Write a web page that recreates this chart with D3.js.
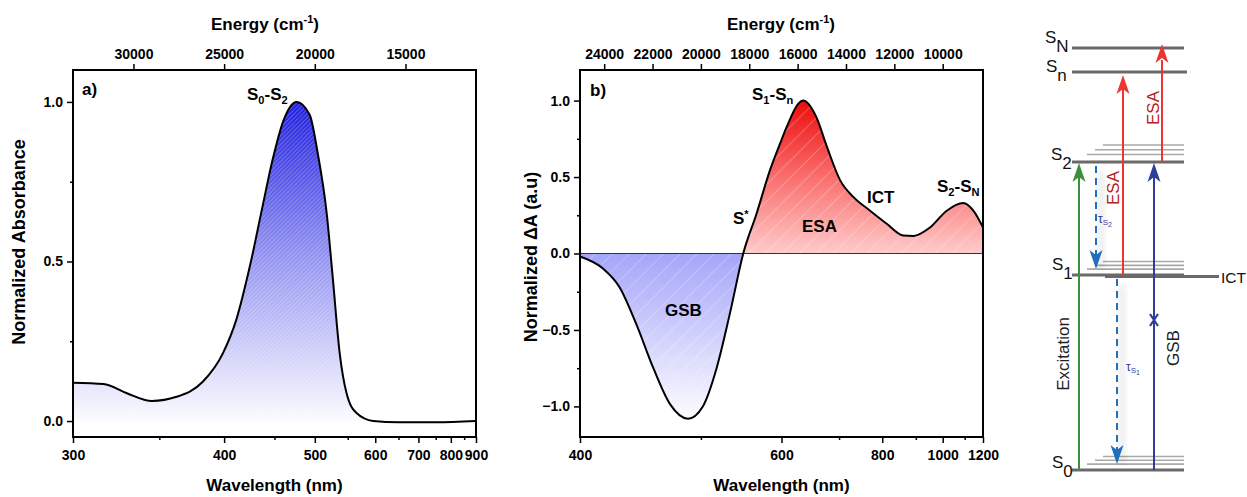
<!DOCTYPE html>
<html>
<head>
<meta charset="utf-8">
<script src="https://cdn.jsdelivr.net/npm/d3@7"></script>
<style>
  body { margin: 0; background: #fff; }
  svg text { font-family: 'Liberation Sans', Arial, sans-serif; }
</style>
</head>
<body>
<svg width="1247" height="497"></svg>
<script>
// panel a: steady-state absorption
const absWl = [300, 316, 329, 345, 362, 382, 399, 411, 424, 437, 448, 460, 476, 493, 504, 517, 526, 537, 548, 565, 596, 650, 750, 900]
const absVal = [0.12, 0.116, 0.088, 0.063, 0.076, 0.123, 0.213, 0.317, 0.484, 0.672, 0.82, 0.94, 1.0, 0.96, 0.84, 0.65, 0.45, 0.21, 0.087, 0.025, 0.0, -0.004, -0.004, 0.0]

// panel b: transient absorption
const taWl = [400, 416, 428, 441, 455, 470, 487, 502, 517, 532, 548, 565, 583, 598, 608, 634, 657, 676, 702, 730, 769, 812, 860, 892, 950, 1017, 1093, 1145, 1200]
const taVal = [-0.02, -0.1, -0.22, -0.46, -0.745, -0.985, -1.08, -1.0, -0.745, -0.39, 0, 0.26, 0.54, 0.72, 0.83, 1.0, 0.89, 0.70, 0.48, 0.37, 0.28, 0.195, 0.118, 0.115, 0.17, 0.28, 0.33, 0.28, 0.17]

// tick values
const aWlMajor = [300, 400, 500, 600, 700, 800, 900]
const aWlMinor = [350, 450, 550, 650, 750, 850]
const aEnergy = [30000, 25000, 20000, 15000]
const aYMajor = [0, 0.5, 1.0]
const aYMinor = [0.25, 0.75]

const bWlMajor = [400, 600, 800, 1000, 1200]
const bWlMinor = [500, 700, 900, 1100]
const bEnergy = [24000, 22000, 20000, 18000, 16000, 14000, 12000, 10000]
const bYMajor = [-1.0, -0.5, 0, 0.5, 1.0]
const bYMinor = [-0.75, -0.25, 0.25, 0.75]

// panel c: level scheme (arbitrary energy units)
const levelNames = ['S0', 'S1', 'S2', 'Sn', 'SN']
const levelEnergy = [0, 46.2, 73, 94.3, 100]
const vibOffsets = [1.4, 2.3, 3.2]

const svg = d3.select('svg')
const defs = svg.append('defs')
const FONT = "'Liberation Sans', Arial, sans-serif"

const gradient = (id, y1, y2, stops) => {
  const lg = defs.append('linearGradient').attr('id', id)
    .attr('gradientUnits', 'userSpaceOnUse')
    .attr('x1', 0).attr('x2', 0).attr('y1', y1).attr('y2', y2)
  stops.forEach(([o, c]) => lg.append('stop').attr('offset', o).attr('stop-color', c))
}

const hatch = (id, gap, op) => {
  const p = defs.append('pattern').attr('id', id)
    .attr('patternUnits', 'userSpaceOnUse')
    .attr('width', gap).attr('height', gap)
    .attr('patternTransform', 'rotate(45)')
  p.append('line').attr('x1', 0).attr('y1', 0).attr('x2', 0).attr('y2', gap)
    .attr('stroke', '#fff').attr('stroke-width', 1).attr('stroke-opacity', op)
}
hatch('hatchA', 3, 0.45)
hatch('hatchB', 12, 0.45)

const drawPanel = p => {
  const x = d3.scaleLinear().domain(p.eDomain).range([p.left, p.right])
  const y = d3.scaleLinear().domain(p.yDomain).range([p.bottom, p.top])
  const xw = w => x(1e7 / w)
  const g = svg.append('g')

  const style = sel => {
    sel.select('.domain').remove()
    sel.selectAll('line').attr('stroke-width', 1.5)
    sel.attr('font-family', FONT).attr('font-size', 14).attr('font-weight', 'bold')
  }

  const layers = { back: g.append('g'), axes: g.append('g') }

  layers.axes.append('g')
    .attr('transform', `translate(0,${p.bottom})`)
    .call(d3.axisBottom(x).tickValues(p.wlMajor.map(w => 1e7 / w))
      .tickFormat(e => Math.round(1e7 / e)).tickSize(6).tickPadding(7))
    .call(style)
  layers.axes.append('g')
    .attr('transform', `translate(0,${p.bottom})`)
    .call(d3.axisBottom(x).tickValues(p.wlMinor.map(w => 1e7 / w)).tickFormat('').tickSize(3))
    .call(style)
  layers.axes.append('g')
    .attr('transform', `translate(0,${p.top})`)
    .call(d3.axisTop(x).tickValues(p.energy).tickFormat(d3.format('d')).tickSize(6).tickPadding(5))
    .call(style)
  layers.axes.append('g')
    .attr('transform', `translate(${p.left},0)`)
    .call(d3.axisLeft(y).tickValues(p.yMajor).tickFormat(d3.format('.1f')).tickSize(6).tickPadding(4))
    .call(style)
  layers.axes.append('g')
    .attr('transform', `translate(${p.left},0)`)
    .call(d3.axisLeft(y).tickValues(p.yMinor).tickFormat('').tickSize(3))
    .call(style)

  layers.axes.append('rect')
    .attr('x', p.left).attr('y', p.top)
    .attr('width', p.right - p.left).attr('height', p.bottom - p.top)
    .attr('fill', 'none').attr('stroke', '#000').attr('stroke-width', 2)

  const energyTitle = layers.axes.append('text')
    .attr('x', p.eTitleX).attr('y', 30)
    .attr('text-anchor', 'middle').attr('font-size', 17).attr('font-weight', 'bold')
  energyTitle.append('tspan').text('Energy (cm')
  energyTitle.append('tspan').attr('font-size', 11).attr('dy', -7).text('-1')
  energyTitle.append('tspan').attr('dy', 7).text(')')

  layers.axes.append('text')
    .attr('x', (p.left + p.right) / 2).attr('y', 491)
    .attr('text-anchor', 'middle').attr('font-size', 17).attr('font-weight', 'bold')
    .text('Wavelength (nm)')

  layers.axes.append('text')
    .attr('transform', `translate(${p.yTitleX},${p.yTitleY}) rotate(-90)`)
    .attr('text-anchor', 'middle').attr('font-size', 18).attr('font-weight', 'bold')
    .text(p.yTitle)

  return { x, y, xw, g, back: layers.back }
}

const subLabel = (g, x, y, parts, size = 17) => {
  const t = g.append('text').attr('x', x).attr('y', y)
    .attr('font-size', size).attr('font-weight', 'bold')
  let shifted = false
  parts.forEach(([s, sub]) => {
    const ts = t.append('tspan').text(s)
    if (sub && !shifted) { ts.attr('dy', 4).attr('font-size', size * 0.65); shifted = true }
    else if (sub) ts.attr('font-size', size * 0.65)
    else if (shifted) { ts.attr('dy', -4); shifted = false }
  })
  return t
}

// ---------- panel a ----------
const A = drawPanel({
  left: 73, right: 476, top: 70, bottom: 437,
  eDomain: [1e7 / 300, 1e7 / 900], yDomain: [-0.05, 1.1],
  wlMajor: aWlMajor, wlMinor: aWlMinor, energy: aEnergy,
  yMajor: aYMajor, yMinor: aYMinor,
  eTitleX: 265, yTitleX: 25, yTitleY: 242, yTitle: 'Normalized Absorbance'
})

gradient('gradA', A.y(1), A.y(0), [[0, 'rgb(30,30,222)'], [0.5, 'rgb(150,150,242)'], [1, 'rgb(251,251,255)']])

const absData = d3.zip(absWl, absVal)
const absArea = d3.area().x(d => A.xw(d[0])).y0(A.y(0)).y1(d => A.y(d[1])).curve(d3.curveMonotoneX)
const absLine = d3.line().x(d => A.xw(d[0])).y(d => A.y(d[1])).curve(d3.curveMonotoneX)

A.back.append('path').datum(absData).attr('d', absArea).attr('fill', 'url(#gradA)')
A.back.append('path').datum(absData).attr('d', absArea).attr('fill', 'url(#hatchA)')
A.back.append('path').datum(absData).attr('d', absLine)
  .attr('fill', 'none').attr('stroke', '#000').attr('stroke-width', 2)

A.back.append('text').attr('x', 82).attr('y', 95)
  .attr('font-size', 17).attr('font-weight', 'bold').text('a)')
subLabel(A.back, 247, 100, [['S'], ['0', 1], ['-'], ['S'], ['2', 1]])

// ---------- panel b ----------
const B = drawPanel({
  left: 580, right: 983, top: 70, bottom: 437,
  eDomain: [1e7 / 400, 1e7 / 1200], yDomain: [-1.2, 1.2],
  wlMajor: bWlMajor, wlMinor: bWlMinor, energy: bEnergy,
  yMajor: bYMajor, yMinor: bYMinor,
  eTitleX: 781, yTitleX: 537, yTitleY: 257, yTitle: 'Normalized \u0394A (a.u)'
})

gradient('gradRed', B.y(1), B.y(0), [[0, 'rgb(236,12,12)'], [0.5, 'rgb(250,110,110)'], [1, 'rgb(255,202,202)']])
gradient('gradBlue', B.y(0), B.y(-1.08), [[0, 'rgb(165,165,250)'], [1, 'rgb(252,252,255)']])

defs.append('clipPath').attr('id', 'clipPos').append('rect')
  .attr('x', 580).attr('y', 70).attr('width', 403).attr('height', B.y(0) - 70)
defs.append('clipPath').attr('id', 'clipNeg').append('rect')
  .attr('x', 580).attr('y', B.y(0)).attr('width', 403).attr('height', 437 - B.y(0))

const taData = d3.zip(taWl, taVal)
const taArea = d3.area().x(d => B.xw(d[0])).y0(B.y(0)).y1(d => B.y(d[1])).curve(d3.curveMonotoneX)
const taLine = d3.line().x(d => B.xw(d[0])).y(d => B.y(d[1])).curve(d3.curveMonotoneX)

B.back.append('path').datum(taData).attr('d', taArea).attr('fill', 'url(#gradRed)').attr('clip-path', 'url(#clipPos)')
B.back.append('path').datum(taData).attr('d', taArea).attr('fill', 'url(#gradBlue)').attr('clip-path', 'url(#clipNeg)')
B.back.append('path').datum(taData).attr('d', taArea).attr('fill', 'url(#hatchB)')
B.back.append('line')
  .attr('x1', 580).attr('x2', 983).attr('y1', B.y(0)).attr('y2', B.y(0))
  .attr('stroke', '#333').attr('stroke-width', 1.2)
B.back.append('path').datum(taData).attr('d', taLine)
  .attr('fill', 'none').attr('stroke', '#000').attr('stroke-width', 2)

B.back.append('text').attr('x', 590).attr('y', 96)
  .attr('font-size', 17).attr('font-weight', 'bold').text('b)')
subLabel(B.back, 752, 100, [['S'], ['1', 1], ['-'], ['S'], ['n', 1]])
subLabel(B.back, 937, 192, [['S'], ['2', 1], ['-'], ['S'], ['N', 1]])
const sStar = B.back.append('text').attr('x', 733).attr('y', 224)
  .attr('font-size', 17).attr('font-weight', 'bold')
sStar.append('tspan').text('S')
sStar.append('tspan').attr('font-size', 11).attr('dy', -6).text('*')
B.back.append('text').attr('x', 802).attr('y', 232).attr('font-size', 17).attr('font-weight', 'bold').text('ESA')
B.back.append('text').attr('x', 867).attr('y', 203).attr('font-size', 17).attr('font-weight', 'bold').text('ICT')
B.back.append('text').attr('x', 665).attr('y', 316).attr('font-size', 17).attr('font-weight', 'bold').text('GSB')

// ---------- panel c: energy level diagram ----------
const C = svg.append('g').attr('font-family', "'Open Sans', 'Noto Sans', sans-serif")
const yL = d3.scaleLinear().domain([0, 100]).range([470, 48])
const lv = name => yL(levelEnergy[levelNames.indexOf(name)])
const lx0 = 1072, lx1 = 1184

const blur = defs.append('filter').attr('id', 'blur').attr('x', '-100%').attr('width', '300%')
blur.append('feGaussianBlur').attr('stdDeviation', 3)

// vibrational sublevels
const vibStart = [1087, 1095, 1103]
;['S0', 'S1', 'S2'].forEach(n => {
  const k = n === 'S2' ? 1.25 : 1
  vibOffsets.forEach((o, i) => {
    C.append('line').attr('x1', vibStart[i]).attr('x2', lx1)
      .attr('y1', lv(n) - o * k * 4.22).attr('y2', lv(n) - o * k * 4.22)
      .attr('stroke', '#a9a9a9').attr('stroke-width', 1.6)
  })
})

levelNames.forEach(n => {
  C.append('line').attr('x1', lx0).attr('x2', n === 'Sn' ? lx1 + 3 : lx1)
    .attr('y1', lv(n)).attr('y2', lv(n))
    .attr('stroke', '#6a6a6a').attr('stroke-width', 3)
})
C.append('line').attr('x1', 1105).attr('x2', 1219)
  .attr('y1', lv('S1') + 1.5).attr('y2', lv('S1') + 1.5)
  .attr('stroke', '#6a6a6a').attr('stroke-width', 3)

const head = (x, tip, dir, color) => {
  const L = 19, w = 6.5, n = 5
  C.append('path')
    .attr('d', `M${x},${tip} L${x - w},${tip + dir * L} L${x},${tip + dir * (L - n)} L${x + w},${tip + dir * L} Z`)
    .attr('fill', color)
}

const arrowUp = (x, from, to, color, gap = 1) => {
  C.append('line').attr('x1', x).attr('x2', x).attr('y1', lv(from)).attr('y2', lv(to) + 12)
    .attr('stroke', color).attr('stroke-width', 2)
  head(x, lv(to) + gap, 1, color)
}

const arrowDown = (x, from, to, color) => {
  C.append('rect').attr('x', x + 3).attr('y', lv(from) + 10).attr('width', 4)
    .attr('height', lv(to) - lv(from) - 16)
    .attr('fill', '#000').attr('opacity', 0.12).attr('filter', 'url(#blur)')
  C.append('line').attr('x1', x).attr('x2', x).attr('y1', lv(from) + 4).attr('y2', lv(to) - 16)
    .attr('stroke', color).attr('stroke-width', 2).attr('stroke-dasharray', '7,5')
  head(x, lv(to) - 6, -1, color)
}

const green = '#3d8f3d', red = '#ea3530', blue = '#2f3f98', dash = '#1f6fbd'
arrowUp(1079, 'S0', 'S2', green)
arrowUp(1154, 'S0', 'S2', blue)
arrowUp(1123, 'S1', 'Sn', red, 3)
arrowUp(1162, 'S2', 'SN', red, -4)
arrowDown(1096, 'S2', 'S1', dash)
arrowDown(1117, 'S1', 'S0', dash)

// crossed mark on the GSB arrow
C.append('path').attr('d', 'M1150,314 L1158,326 M1158,314 L1150,326')
  .attr('stroke', blue).attr('stroke-width', 2.2)

const levelLabel = (x, y, main, sub) => {
  const t = C.append('text').attr('x', x).attr('y', y).attr('font-size', 17).attr('fill', '#111')
  t.append('tspan').text(main)
  t.append('tspan').attr('dy', 9).attr('font-size', 17).text(sub)
}
levelLabel(1045, 43, 'S', 'N')
levelLabel(1046, 72, 'S', 'n')
levelLabel(1051, 160, 'S', '2')
levelLabel(1052, 270, 'S', '1')
levelLabel(1052, 468, 'S', '0')

C.append('text').attr('x', 1221).attr('y', 283).attr('font-size', 15.5).attr('fill', '#111').text('ICT')

const vtext = (x, y, s, color) => C.append('text')
  .attr('transform', `translate(${x},${y}) rotate(-90)`)
  .attr('text-anchor', 'middle').attr('font-size', 17).attr('fill', color).text(s)
vtext(1069, 354, 'Excitation', '#222')
vtext(1179, 348, 'GSB', '#222')
vtext(1119, 188, 'ESA', '#b42222')
vtext(1159, 108, 'ESA', '#b42222')

const tau = (x, y, sub) => {
  const t = C.append('text').attr('x', x).attr('y', y).attr('font-size', 12).attr('fill', '#2f3f98')
    .attr('font-family', "'DejaVu Serif', serif")
  t.append('tspan').text('\u03c4')
  t.append('tspan').attr('dy', 2).attr('font-size', 8).text('S')
  t.append('tspan').attr('dy', 2).attr('font-size', 7).text(sub)
}
tau(1098, 223, '2')
tau(1126, 371, '1')
</script>
</body>
</html>
